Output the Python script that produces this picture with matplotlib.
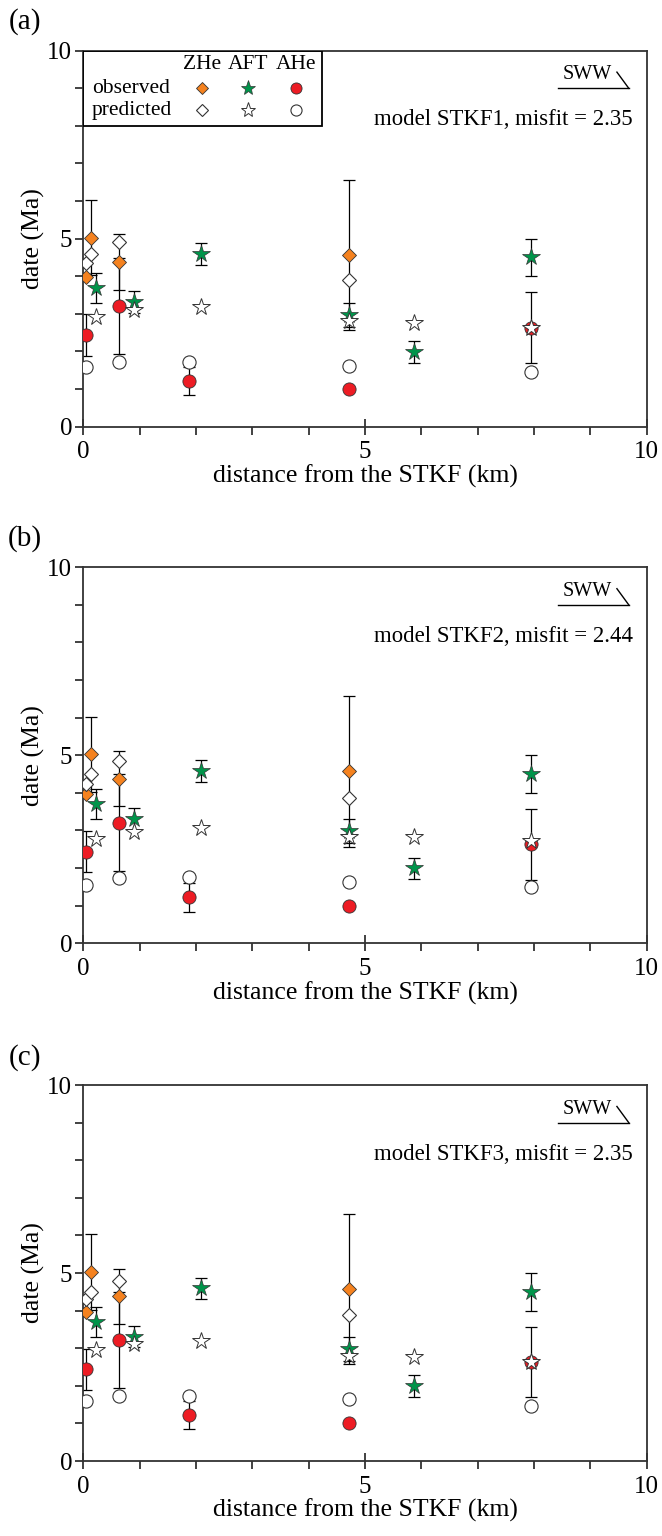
import matplotlib
matplotlib.use('Agg')
import matplotlib.pyplot as plt
from matplotlib.ticker import MultipleLocator, FixedLocator

plt.rcParams['font.family'] = ['Liberation Serif', 'DejaVu Serif']

# observed dates (same in every panel)
zhe_dist = [0.05, 0.13, 0.64, 4.71]
zhe_obs = [3.97, 5.03, 4.38, 4.57]
zhe_err = [0.0, 1.0, 0.74, 2.0]

aft_dist = [0.23, 0.90, 2.09, 4.71, 5.87, 7.94]
aft_obs = [3.70, 3.31, 4.59, 2.98, 1.99, 4.50]
aft_err = [0.40, 0.29, 0.29, 0.32, 0.29, 0.50]

ahe_dist = [0.05, 0.64, 1.87, 4.71, 7.94]
ahe_obs = [2.44, 3.21, 1.22, 1.00, 2.63]
ahe_err = [0.55, 1.28, 0.38, 0.0, 0.94]

# predicted dates per model
models = ['STKF1', 'STKF2', 'STKF3']
misfits = [2.35, 2.44, 2.35]
panel_tags = ['(a)', '(b)', '(c)']
zhe_pred = [[4.35, 4.58, 4.90, 3.90],
            [4.24, 4.51, 4.85, 3.86],
            [4.31, 4.50, 4.79, 3.88]]
aft_pred = [[2.93, 3.10, 3.19, 2.81, 2.77, 2.62],
            [2.78, 2.95, 3.06, 2.82, 2.82, 2.72],
            [2.95, 3.11, 3.20, 2.80, 2.77, 2.64]]
ahe_pred = [[1.58, 1.73, 1.71, 1.62, 1.45],
            [1.55, 1.73, 1.75, 1.64, 1.49],
            [1.60, 1.74, 1.74, 1.64, 1.46]]

orange = '#f5821f'
green = '#00944a'
red = '#ed1c24'
edge = '#333333'

fig = plt.figure(figsize=(6.62, 15.36), dpi=100)
bottoms = [0.7222, 0.3859, 0.0488]
tag_y = [0.9857, 0.6497, 0.3118]


def draw_panel(ax, i):
    # error bars first, then symbols
    for d, v, e in [(zhe_dist, zhe_obs, zhe_err), (aft_dist, aft_obs, aft_err),
                    (ahe_dist, ahe_obs, ahe_err)]:
        ax.errorbar(d, v, yerr=e, fmt='none', ecolor='black', elinewidth=0.9,
                    capsize=4, capthick=0.9, zorder=2)
    ax.plot(zhe_dist, zhe_obs, 'D', ms=7.5, mfc=orange, mec=edge, mew=0.6, zorder=3)
    ax.plot(aft_dist, aft_obs, '*', ms=13, mfc=green, mec=edge, mew=0.5, zorder=3)
    ax.plot(ahe_dist, ahe_obs, 'o', ms=9.5, mfc=red, mec=edge, mew=0.6, zorder=3)
    ax.plot(zhe_dist, zhe_pred[i], 'D', ms=7.5, mfc='white', mec=edge, mew=0.8, zorder=4)
    ax.plot(aft_dist, aft_pred[i], '*', ms=13, mfc='white', mec=edge, mew=0.7, zorder=4)
    ax.plot(ahe_dist, ahe_pred[i], 'o', ms=9.5, mfc='white', mec=edge, mew=0.8, zorder=4)

    ax.set_xlim(0, 10)
    ax.set_ylim(0, 10)
    ax.xaxis.set_major_locator(FixedLocator([0, 5, 10]))
    ax.xaxis.set_minor_locator(MultipleLocator(1))
    ax.yaxis.set_major_locator(FixedLocator([0, 5, 10]))
    ax.yaxis.set_minor_locator(MultipleLocator(1))
    ax.tick_params(axis='x', which='major', direction='inout', length=11, width=1.3,
                   labelsize=18, pad=5, color=edge)
    ax.tick_params(axis='x', which='minor', direction='out', length=6, width=1.3, color=edge)
    ax.tick_params(axis='y', which='both', direction='out', length=6, width=1.3,
                   labelsize=18, pad=2, color=edge)
    for s in ax.spines.values():
        s.set_linewidth(1.3)
        s.set_color(edge)
    ax.set_xlabel('distance from the STKF (km)', fontsize=18.5, labelpad=1)
    ax.set_ylabel('date (Ma)', fontsize=18.5, labelpad=2)

    ax.text(0.975, 0.816, 'model %s, misfit = %.2f' % (models[i], misfits[i]),
            transform=ax.transAxes, ha='right', va='center', fontsize=16.4)
    ax.text(0.895, 0.936, 'SWW', transform=ax.transAxes, ha='center', va='center',
            fontsize=14.5)
    ax.plot([0.842, 0.968], [0.90, 0.90], color='black', lw=1.0,
            transform=ax.transAxes, clip_on=False)
    ax.plot([0.947, 0.968], [0.943, 0.90], color='black', lw=1.0,
            transform=ax.transAxes, clip_on=False)


for i in range(3):
    ax = fig.add_axes([0.126, bottoms[i], 0.851, 0.2448])
    draw_panel(ax, i)
    fig.text(0.038, tag_y[i], panel_tags[i], ha='center', va='center', fontsize=21)
    if i == 0:
        # legend box
        ax.add_patch(plt.Rectangle((0, 0.8), 0.423, 0.2, transform=ax.transAxes,
                                   fill=False, ec='black', lw=1.3, zorder=5))
        for name, xm in zip(['ZHe', 'AFT', 'AHe'], [0.21, 0.292, 0.377]):
            ax.text(xm, 0.962, name, transform=ax.transAxes, ha='center', va='center',
                    fontsize=15.5)
        ax.text(0.085, 0.90, 'observed', transform=ax.transAxes, ha='center',
                va='center', fontsize=15.5)
        ax.text(0.085, 0.842, 'predicted', transform=ax.transAxes, ha='center',
                va='center', fontsize=15.5)
        ax.plot([0.21], [0.90], 'D', ms=6.5, mfc=orange, mec=edge, mew=0.6, transform=ax.transAxes)
        ax.plot([0.292], [0.90], '*', ms=11, mfc=green, mec=edge, mew=0.5, transform=ax.transAxes)
        ax.plot([0.377], [0.90], 'o', ms=8, mfc=red, mec=edge, mew=0.6, transform=ax.transAxes)
        ax.plot([0.21], [0.842], 'D', ms=6.5, mfc='white', mec=edge, mew=0.8, transform=ax.transAxes)
        ax.plot([0.292], [0.842], '*', ms=11, mfc='white', mec=edge, mew=0.7, transform=ax.transAxes)
        ax.plot([0.377], [0.842], 'o', ms=8, mfc='white', mec=edge, mew=0.8, transform=ax.transAxes)

fig.savefig('out.png', dpi=100)
